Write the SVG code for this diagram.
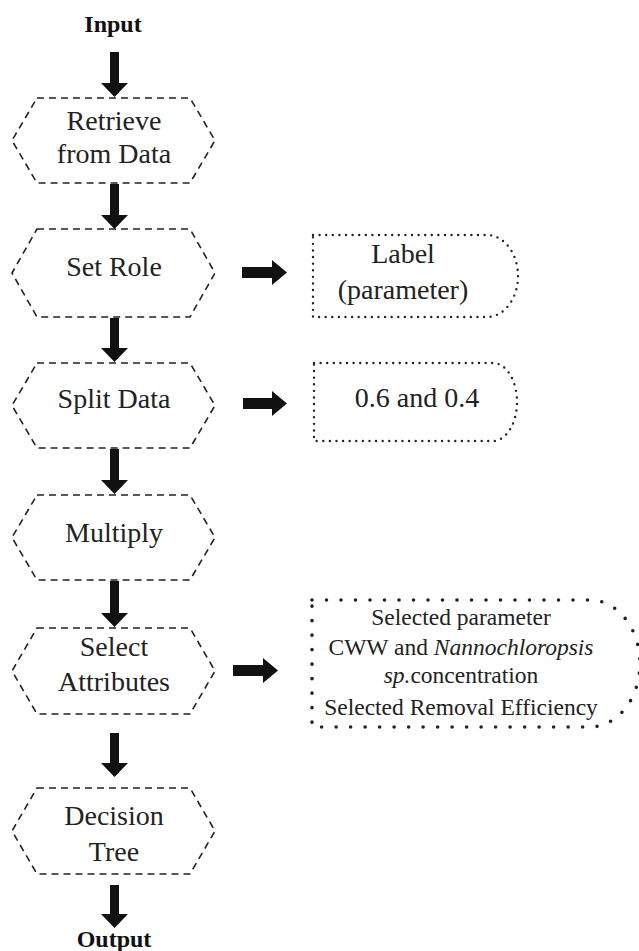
<svg xmlns="http://www.w3.org/2000/svg" width="639" height="951" viewBox="0 0 639 951">
<style>
.hex{fill:none;stroke:#222;stroke-width:1.6;stroke-dasharray:7 5;stroke-linejoin:round}
.dot1{fill:none;stroke:#222;stroke-width:2.4;stroke-dasharray:0 6.6;stroke-linecap:round}
.dot2{fill:none;stroke:#222;stroke-width:3.6;stroke-dasharray:0 14.5;stroke-linecap:round}
text{font-family:'Liberation Serif','Times New Roman',Tinos,'DejaVu Serif',serif;fill:#222;text-anchor:middle}
.t{font-size:28px}
.s{font-size:23.5px}
.b{font-size:24px;font-weight:bold;fill:#111}
.arr{fill:#111}
</style>
<rect width="639" height="951" fill="#fff"/>
<g id="input"><text class="b" x="113" y="32" font-family="Liberation Serif, serif">Input</text></g>
<g id="retrieve">
<polygon class="hex" points="37,98 190,98 215,140.5 190,183 37,183 12,140.5"/>
<text class="t" x="114" y="130">Retrieve</text>
<text class="t" x="114" y="163">from Data</text>
</g>
<g id="setrole">
<polygon class="hex" points="37,229 190,229 215,273 190,317 37,317 12,273"/>
<text class="t" x="114" y="276">Set Role</text>
</g>
<g id="splitdata">
<polygon class="hex" points="37,363 190,363 215,405.5 190,448 37,448 12,405.5"/>
<text class="t" x="114" y="408">Split Data</text>
</g>
<g id="multiply">
<polygon class="hex" points="37,495 190,495 215,537.5 190,580 37,580 12,537.5"/>
<text class="t" x="114" y="542">Multiply</text>
</g>
<g id="selectattr">
<polygon class="hex" points="37,628 190,628 215,671 190,714 37,714 12,671"/>
<text class="t" x="114" y="656">Select</text>
<text class="t" x="114" y="691">Attributes</text>
</g>
<g id="decisiontree">
<polygon class="hex" points="37,788 190,788 215,831 190,874 37,874 12,831"/>
<text class="t" x="114" y="825">Decision</text>
<text class="t" x="114" y="861">Tree</text>
</g>
<g id="output"><text class="b" x="114" y="947">Output</text></g>
<g id="label">
<path class="dot1" d="M313,235 H487 A31 41 0 0 1 487,317 H313 Z"/>
<text class="t" x="403" y="263">Label</text>
<text class="t" x="403" y="299">(parameter)</text>
</g>
<g id="ratio">
<path class="dot1" d="M314,363 H493 A24 39 0 0 1 493,441 H314 Z"/>
<text class="t" x="417" y="407">0.6 and 0.4</text>
</g>
<g id="selected">
<path class="dot2" d="M312,600 H590 A50 63.5 0 0 1 590,727 H312 Z"/>
<text class="s" x="461" y="625">Selected parameter</text>
<text class="s" x="461" y="655">CWW and <tspan font-style="italic">Nannochloropsis</tspan></text>
<text class="s" x="461" y="683"><tspan font-style="italic">sp.</tspan>concentration</text>
<text class="s" x="461" y="715">Selected Removal Efficiency</text>
</g>
<g id="connectors" class="arr">
<polygon points="110,52 119,52 119,83 128,83 114.5,97 101,83 110,83"/>
<polygon points="110,184 119,184 119,215 128,215 114.5,229 101,215 110,215"/>
<polygon points="110,318 119,318 119,348 128,348 114.5,362 101,348 110,348"/>
<polygon points="110,449 119,449 119,480 128,480 114.5,494 101,480 110,480"/>
<polygon points="110,581 119,581 119,613 128,613 114.5,627 101,613 110,613"/>
<polygon points="110,733 119,733 119,763 128,763 114.5,777 101,763 110,763"/>
<polygon points="110,885 119,885 119,914 128,914 114.5,928 101,914 110,914"/>
<polygon points="242,267 272,267 272,260 287,272.5 272,285 272,278 242,278"/>
<polygon points="243,398 272,398 272,391 287,403.5 272,416 272,409 243,409"/>
<polygon points="233,665 263,665 263,658 278,670.5 263,683 263,676 233,676"/>
</g>
</svg>
